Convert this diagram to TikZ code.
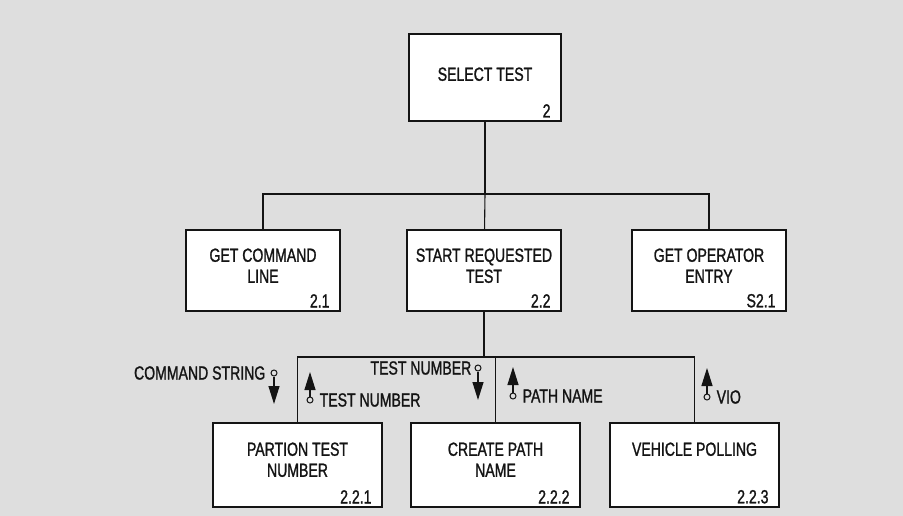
\documentclass[tikz,border=0pt]{standalone}
\usepackage{fontspec}
\setmainfont{Liberation Sans}[FakeStretch=0.74,FakeBold=1.2]
\usepackage{tikz}
\usetikzlibrary{arrows.meta,positioning}
\definecolor{paper}{HTML}{DEDEDE}
\definecolor{ink}{HTML}{141414}

\begin{document}
\begin{tikzpicture}[
  x=1pt,y=-1pt,
  every node/.style={font=\fontsize{19}{21}\selectfont,text=ink},
  procbox/.style={draw=ink,fill=white,line width=1.4pt,inner sep=0pt,minimum width=154pt,minimum height=81pt},
  lowbox/.style={procbox,minimum width=169pt,minimum height=84pt},
  boxtext/.style={anchor=north,align=center,inner sep=0pt,yshift=-#1},
  boxtext/.default=19pt,
  boxnum/.style={anchor=south east,inner sep=0pt,xshift=-11pt,yshift=4pt},
  link/.style={draw=ink,line width=1.1pt},
  sigdot/.style={circle,draw=ink,line width=1pt,inner sep=0pt,minimum size=6pt},
  sigflow/.style={-{Triangle[length=18pt,width=11pt]},draw=ink,line width=1.2pt},
  siglabel/.style={inner sep=0pt}
]
\fill[paper] (0,0) rectangle (903,516);
\useasboundingbox (0,0) rectangle (903,516);

% top level
\node[procbox,minimum width=152pt,minimum height=87pt,
  label={[boxtext=34pt]north:SELECT TEST},
  label={[boxnum]south east:2}] (sel) at (485,77.5) {};

% second level
\node[procbox,label={[boxtext]north:GET COMMAND\\LINE},
  label={[boxnum]south east:2.1}] (gcl) at (263,270.5) {};
\node[procbox,label={[boxtext]north:START REQUESTED\\TEST},
  label={[boxnum]south east:2.2}] (srt) at (484,270.5) {};
\node[procbox,label={[boxtext]north:GET OPERATOR\\ENTRY},
  label={[boxnum]south east:S2.1}] (goe) at (709,270.5) {};

% third level
\node[lowbox,label={[boxtext=20pt]north:PARTION TEST\\NUMBER},
  label={[boxnum]south east:2.2.1}] (ptn) at (297.5,465) {};
\node[lowbox,label={[boxtext=20pt]north:CREATE PATH\\NAME},
  label={[boxnum]south east:2.2.2}] (cpn) at (495.5,465) {};
\node[lowbox,label={[boxtext=20pt]north:VEHICLE POLLING},
  label={[boxnum]south east:2.2.3}] (veh) at (694.5,465) {};

% tree lines
\coordinate (split) at (485,194);
\coordinate (fork) at (484,357);
\draw[link] (sel) -- (split);
\draw[link] (gcl) |- (split) -| (goe);
\draw[link] (split) -- (srt);
\draw[link] (srt) -- (fork);
\draw[link] (ptn) |- (fork) -| (veh);
\draw[link] (cpn) -- (cpn |- fork);

% data couples
\node[sigdot] (cs) at (274,373) {};
\coordinate (cs tip) at (274,404);
\draw[sigflow] (cs) -- (cs tip);
\node[siglabel,left=5pt of cs] (cs text) {COMMAND STRING};

\node[sigdot] (tn) at (310,400) {};
\coordinate (tn tip) at (310,372);
\draw[sigflow] (tn) -- (tn tip);
\node[siglabel,right=6pt of tn] (tn text) {TEST NUMBER};

\node[sigdot] (tnb) at (478,368) {};
\coordinate (tnb tip) at (478,400);
\draw[sigflow] (tnb) -- (tnb tip);
\node[siglabel,left=3pt of tnb] (tnb text) {TEST NUMBER};

\node[sigdot] (pn) at (513,396) {};
\coordinate (pn tip) at (513,367);
\draw[sigflow] (pn) -- (pn tip);
\node[siglabel,right=6pt of pn] (pn text) {PATH NAME};

\node[sigdot] (vio) at (707,397) {};
\coordinate (vio tip) at (707,368);
\draw[sigflow] (vio) -- (vio tip);
\node[siglabel,right=6pt of vio] (vio text) {VIO};
\end{tikzpicture}
\end{document}
